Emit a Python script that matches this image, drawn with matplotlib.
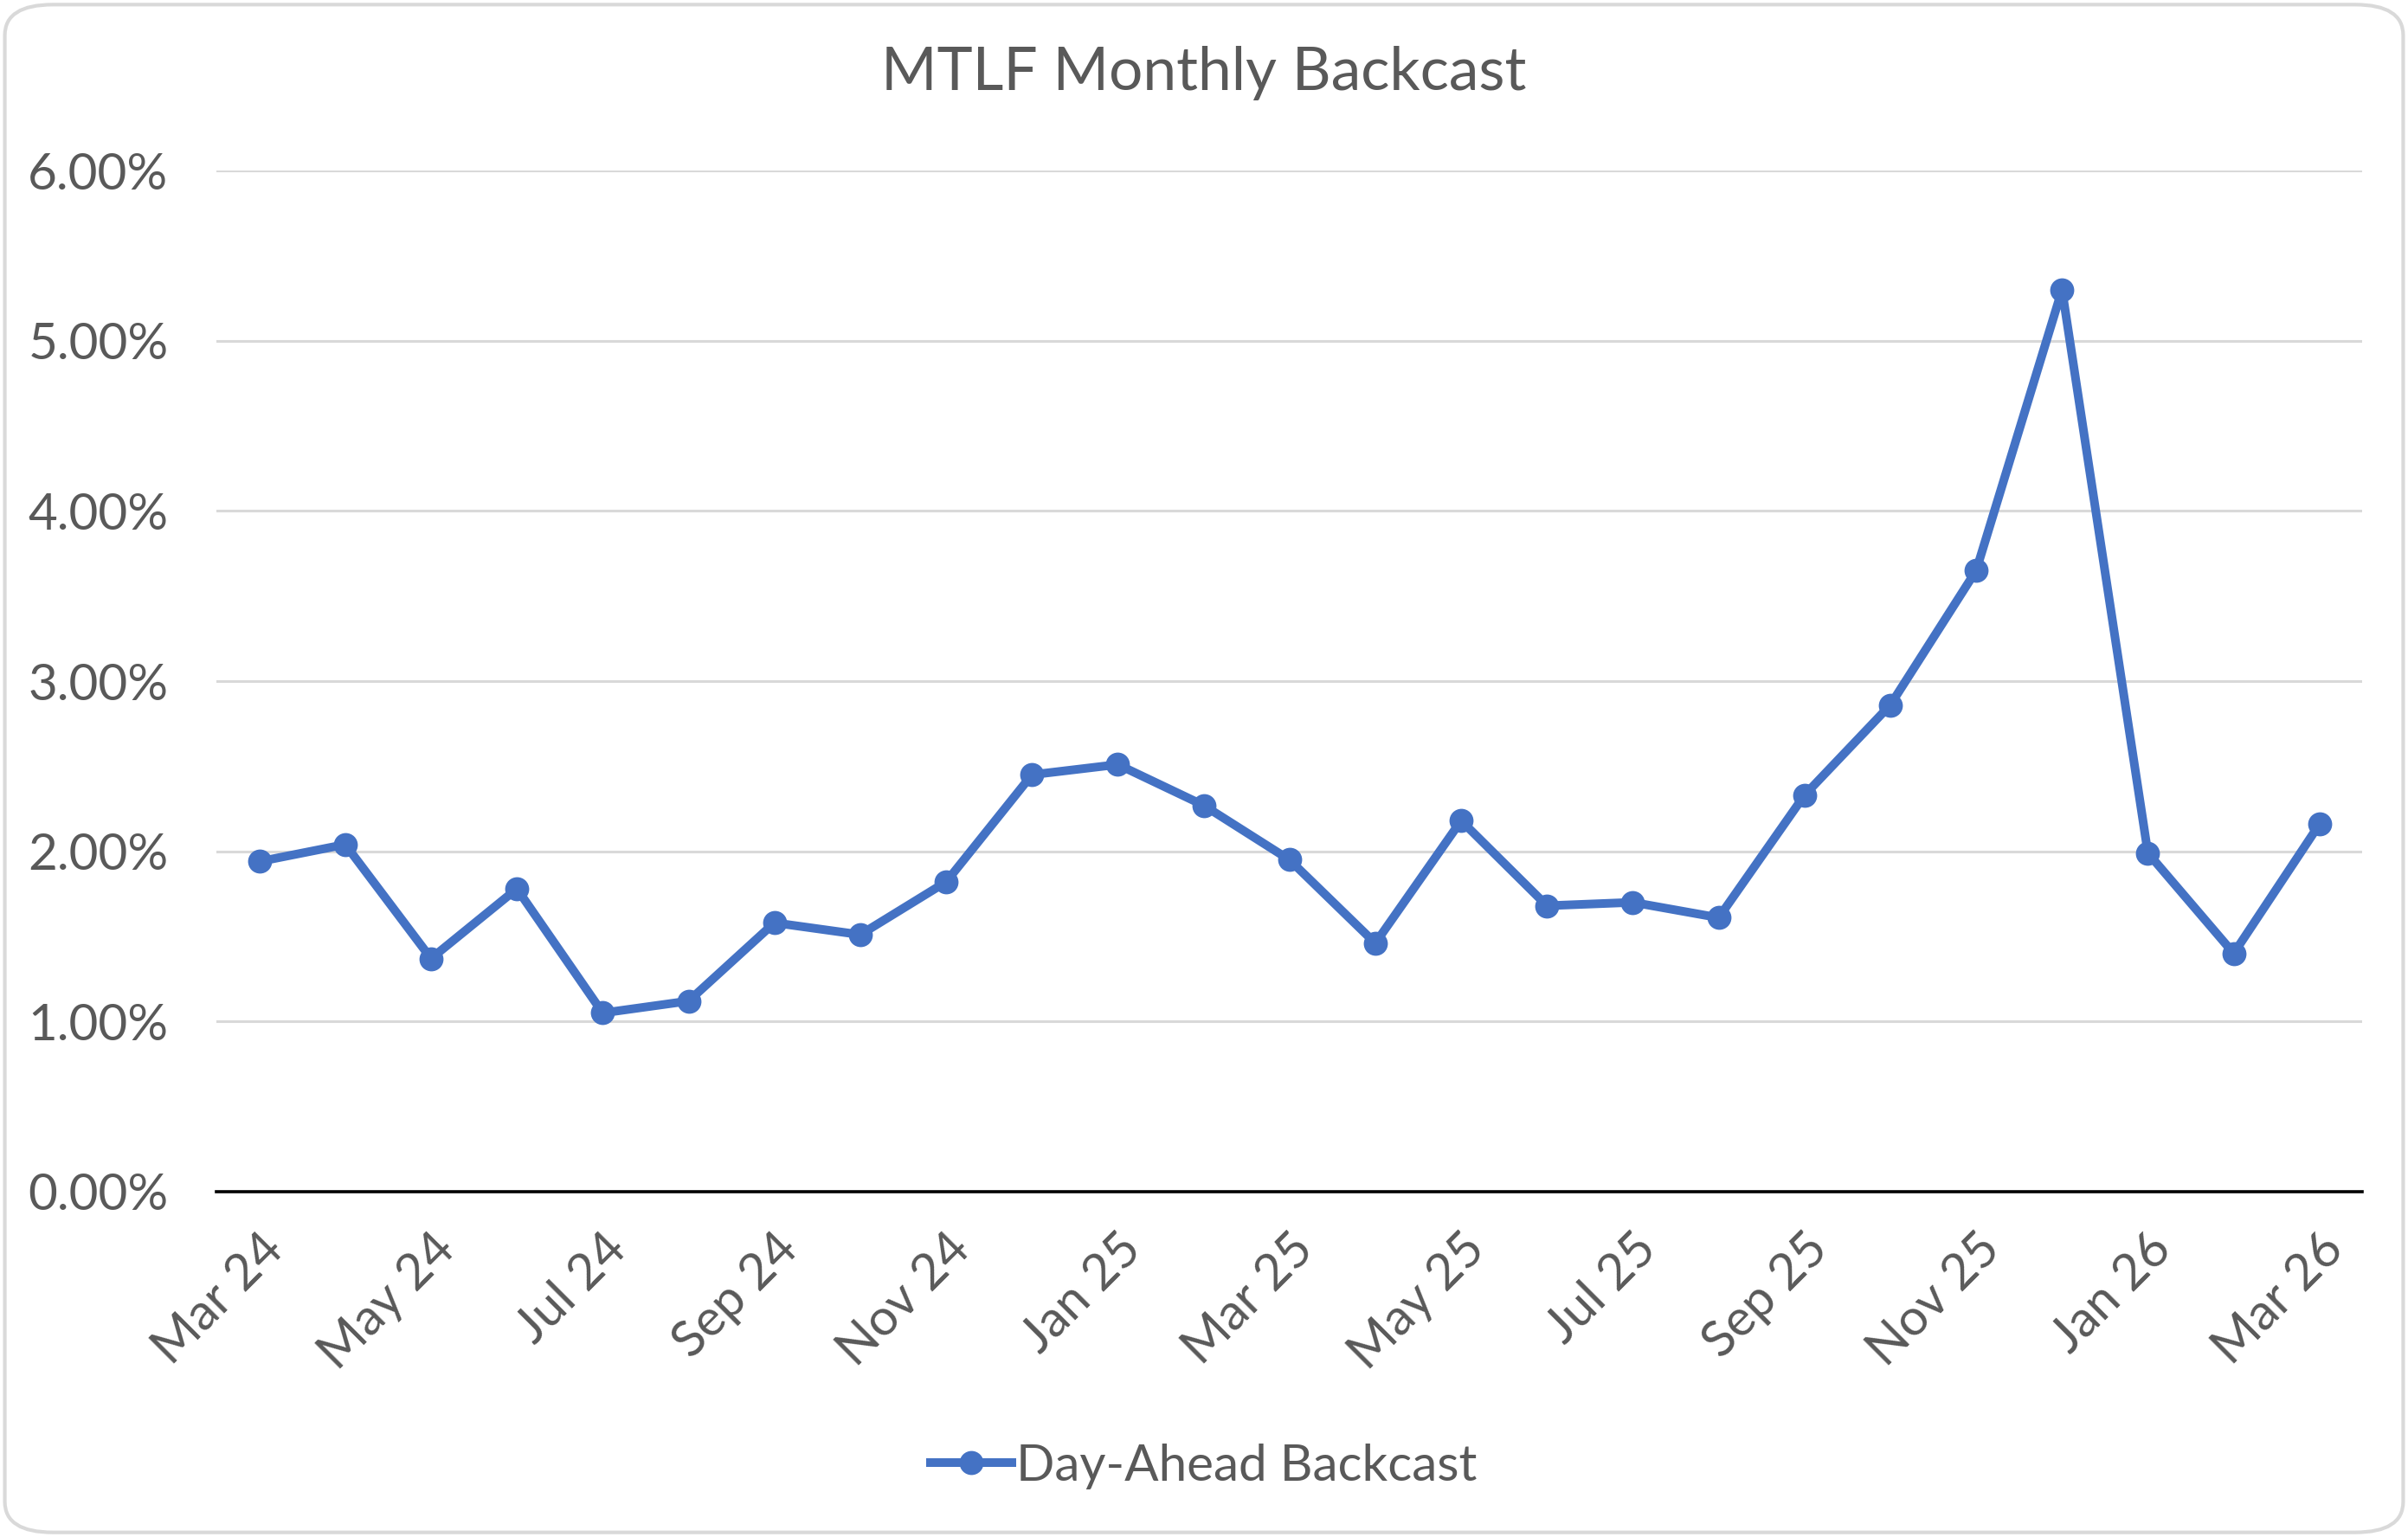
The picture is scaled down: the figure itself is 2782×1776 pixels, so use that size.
import matplotlib.pyplot as plt
from matplotlib.patches import FancyBboxPatch
from matplotlib.ticker import PercentFormatter

plt.rcParams['font.family'] = ['Lato', 'DejaVu Sans']

months = ['Mar 24', 'Apr 24', 'May 24', 'Jun 24', 'Jul 24', 'Aug 24', 'Sep 24',
          'Oct 24', 'Nov 24', 'Dec 24', 'Jan 25', 'Feb 25', 'Mar 25', 'Apr 25',
          'May 25', 'Jun 25', 'Jul 25', 'Aug 25', 'Sep 25', 'Oct 25', 'Nov 25',
          'Dec 25', 'Jan 26', 'Feb 26', 'Mar 26']
backcast = [1.94, 2.04, 1.37, 1.78, 1.05, 1.12, 1.58, 1.51, 1.82, 2.45, 2.51,
            2.27, 1.95, 1.46, 2.18, 1.68, 1.70, 1.61, 2.33, 2.86, 3.65, 5.30,
            1.99, 1.40, 2.16]

text_col = '#595959'
grid_col = '#D9D9D9'
blue = '#4472C4'

fig = plt.figure(figsize=(13.91, 8.88), dpi=200)
ax = fig.add_axes([0.0899, 0.2247, 0.8912, 0.6643])

x = list(range(len(months)))
ax.plot(x, backcast, color=blue, lw=3.6, marker='o', markersize=9,
        label='Day-Ahead Backcast', solid_joinstyle='round')

ax.set_xlim(-0.5, len(months) - 0.5)
ax.set_ylim(0, 6)
ax.set_yticks(range(0, 7))
ax.yaxis.set_major_formatter(PercentFormatter(decimals=2))
ax.set_xticks(x[::2])
ax.set_xticklabels(months[::2], rotation=45, ha='right', rotation_mode='anchor')
ax.tick_params(axis='both', length=0, labelsize=21, colors=text_col)
ax.tick_params(axis='x', pad=14)
ax.tick_params(axis='y', pad=20)

ax.grid(axis='y', color=grid_col, lw=1.1)
ax.set_axisbelow(True)
for s in ['top', 'right', 'left']:
    ax.spines[s].set_visible(False)
ax.spines['bottom'].set_color('black')
ax.spines['bottom'].set_linewidth(1.3)

fig.suptitle('MTLF Monthly Backcast', y=0.97, fontsize=25, color=text_col)

leg = fig.legend(loc='center', bbox_to_anchor=(0.5, 0.046), frameon=False,
                 fontsize=21, handlelength=1.6, handletextpad=0.1)
for t in leg.get_texts():
    t.set_color(text_col)

border = FancyBboxPatch((0.002, 0.003), 0.996, 0.994,
                        boxstyle='round,pad=0,rounding_size=0.02',
                        transform=fig.transFigure, fill=False,
                        edgecolor=grid_col, lw=1.5)
fig.patches.append(border)

fig.savefig('out.png', dpi=200)
